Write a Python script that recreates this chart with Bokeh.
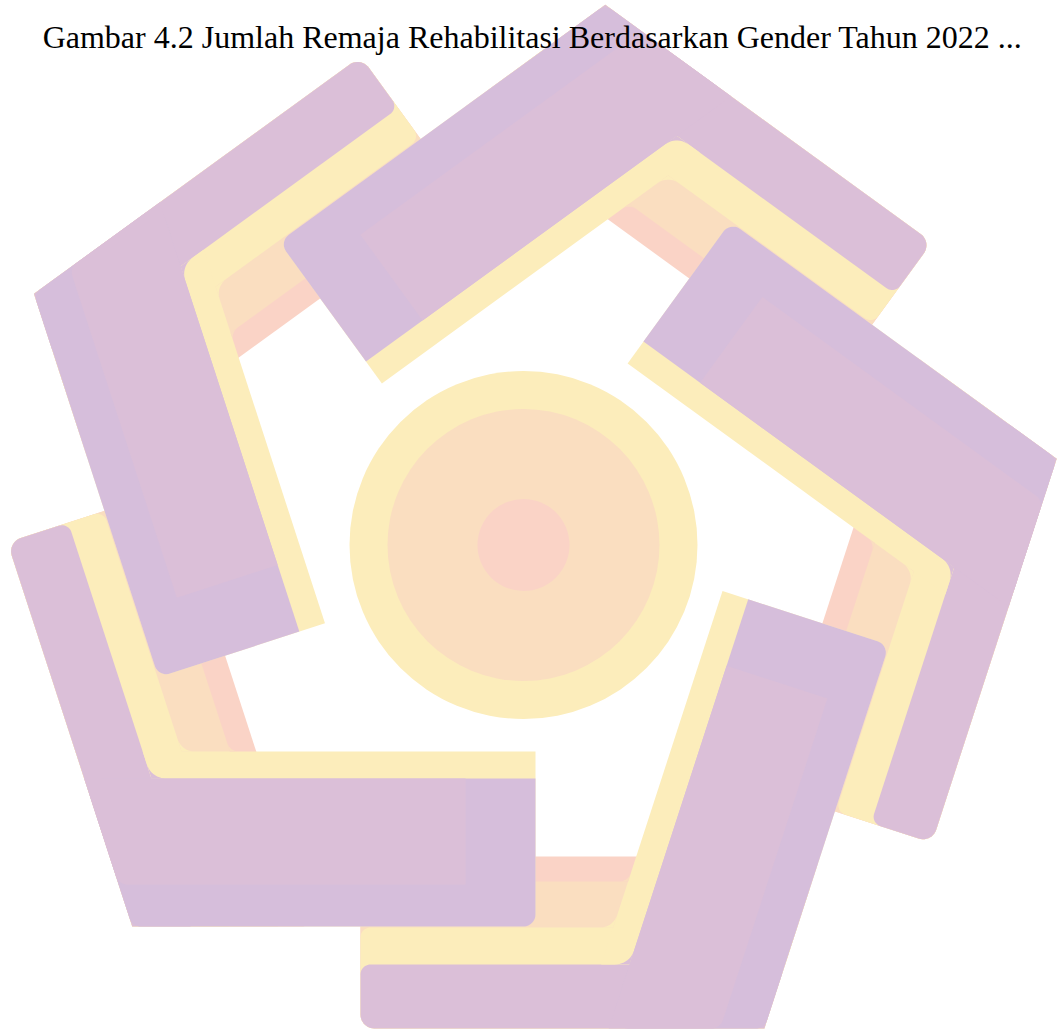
import numpy as np
from bokeh.plotting import figure
from bokeh.models import Range1d
from bokeh.core.properties import value
from bokeh.embed import file_html
from bokeh.resources import INLINE

# ---------------- data ----------------
TITLE = "Gambar 4.2 Jumlah Remaja Rehabilitasi Berdasarkan Gender Tahun 2022 ..."
TITLE_POS = (532, 36)

LOGO_CENTER = (518.0, 542.0)          # centre of the pentagonal pinwheel
ARM_ROTATIONS = [0, 72, 144, 216, 288]  # five identical arms

# band (long side of every arm): distance of each layer's inner edge from centre
BAND_OUTER = 486
BAND_LAYER_INNER = [314, 339, 385, 422]
BAND_LAYER_COLORS = ["#FAD3C6", "#FADEC0", "#FCEDBB", "#DBBFD8"]
BAND_END = 158

# block (short side of every arm)
LEG_OUTER = 384
LEG_YELLOW_INNER = 209
LEG_PURPLE_INNER = 236
LEG_STRIPE_INNER = 342
LEG_END = 17
LEG_CAP_START = -53
LEG_COLORS = {"yellow": "#FCEDBB", "dark": "#D6BEDB", "light": "#DBBFD8"}

# rounded inner corners where a band layer meets the block
FILLETS = [(339, LEG_YELLOW_INNER, 12, "#FADEC0"),
           (385, LEG_YELLOW_INNER, 18, "#FCEDBB"),
           (422, LEG_PURPLE_INNER, 20, "#DBBFD8")]

CIRCLE_CENTER = (523.0, 544.5)
CIRCLE_RADII = [174, 136, 46]
CIRCLE_COLORS = ["#FCEDBB", "#FADEC0", "#FAD3C6"]


# ---------------- geometry helpers ----------------
def unit(deg):
    a = np.deg2rad(deg)
    return np.array([np.cos(a), np.sin(a)])


def intersect(l1, l2):
    n1, d1 = l1
    n2, d2 = l2
    return np.linalg.solve(np.array([n1, n2]), np.array([d1, d2]))


def polygon(lines):
    return [intersect(lines[i - 1], lines[i]) for i in range(len(lines))]


def arc(c, r, a1, a2, steps=12):
    da = (a2 - a1 + np.pi) % (2 * np.pi) - np.pi
    return [c + r * np.array([np.cos(a1 + da * s), np.sin(a1 + da * s)])
            for s in np.linspace(0, 1, steps)]


def ang(v):
    return np.arctan2(v[1], v[0])


def rounded(verts, radii):
    out = []
    n = len(verts)
    for i in range(n):
        P = verts[i]
        r = radii[i]
        if r <= 0:
            out.append(P)
            continue
        A = verts[i - 1]
        B = verts[(i + 1) % n]
        u1 = (A - P) / np.linalg.norm(A - P)
        u2 = (B - P) / np.linalg.norm(B - P)
        th = np.arccos(np.clip(np.dot(u1, u2), -1, 1))
        dist = r / np.tan(th / 2)
        bis = (u1 + u2) / np.linalg.norm(u1 + u2)
        c = P + bis * r / np.sin(th / 2)
        T1 = P + u1 * dist
        T2 = P + u2 * dist
        out.extend(arc(c, r, ang(T1 - c), ang(T2 - c)))
    return out


def to_screen(pts):
    xs = [LOGO_CENTER[0] + q[0] for q in pts]
    ys = [LOGO_CENTER[1] - q[1] for q in pts]
    return xs, ys


polys_x, polys_y, polys_c = [], [], []


def add_pts(pts, color):
    xs, ys = to_screen(pts)
    polys_x.append(xs)
    polys_y.append(ys)
    polys_c.append(color)


def add(lines, radii, color):
    add_pts(rounded(polygon(lines), radii), color)


def fillet(nb, d_band, nl, d_leg, r, color):
    # concave corner of the coloured region {nb.p >= d_band} U {nl.p >= d_leg}
    P = intersect((nb, d_band), (nl, d_leg))
    c = intersect((nb, d_band - r), (nl, d_leg - r))
    T1 = c + r * nb
    T2 = c + r * nl
    add_pts([P] + arc(c, r, ang(T1 - c), ang(T2 - c)), color)


# bands of all arms first
for phi in ARM_ROTATIONS:
    nb = unit(270 + phi)
    tb = unit(180 + phi)
    nl = unit(342 + phi)
    for r_in, col in zip(BAND_LAYER_INNER, BAND_LAYER_COLORS):
        lines = [(-nb, -r_in), (tb, BAND_END), (nb, BAND_OUTER), (nl, LEG_OUTER)]
        add(lines, [8, 10, 14, 0], col)

# blocks of all arms on top
for phi in ARM_ROTATIONS:
    nb = unit(270 + phi)
    nl = unit(342 + phi)
    tl = unit(72 + phi)
    # yellow inner strip (kept clear of the band's purple)
    add([(tl, LEG_END), (-nl, -LEG_YELLOW_INNER), (nb, BAND_LAYER_INNER[3]), (nl, LEG_OUTER)],
        [12, 0, 0, 0], LEG_COLORS["yellow"])
    for d_band, d_leg, r, col in FILLETS:
        fillet(nb, d_band, nl, d_leg, r, col)
    # full block, darker tone
    add([(tl, LEG_END), (-nl, -LEG_PURPLE_INNER), (nb, BAND_OUTER), (nl, LEG_OUTER)],
        [12, 0, 14, 12], LEG_COLORS["dark"])
    # lighter inner part of the block
    add([(tl, LEG_CAP_START), (-nl, -LEG_PURPLE_INNER), (nb, BAND_OUTER), (nl, LEG_STRIPE_INNER)],
        [0, 0, 0, 12], LEG_COLORS["light"])

# ---------------- figure ----------------
p = figure(width=1064, height=1032, output_backend="svg", toolbar_location=None,
           x_range=Range1d(0, 1064), y_range=Range1d(1032, 0),
           x_axis_location=None, y_axis_location=None, min_border=0)
p.grid.visible = False
p.outline_line_color = None
p.background_fill_color = "white"
p.border_fill_color = "white"

p.patches(xs=polys_x, ys=polys_y, fill_color=polys_c, line_color=None)

p.circle(x=[CIRCLE_CENTER[0]] * 3, y=[CIRCLE_CENTER[1]] * 3, radius=CIRCLE_RADII,
         fill_color=CIRCLE_COLORS, line_color=None)

p.text(x=[TITLE_POS[0]], y=[TITLE_POS[1]], text=[TITLE],
       text_font=value("Liberation Serif"), text_font_size=value("32px"),
       text_align="center", text_baseline="alphabetic", text_color="black")

open("out.html", "w").write(file_html(p, INLINE))
